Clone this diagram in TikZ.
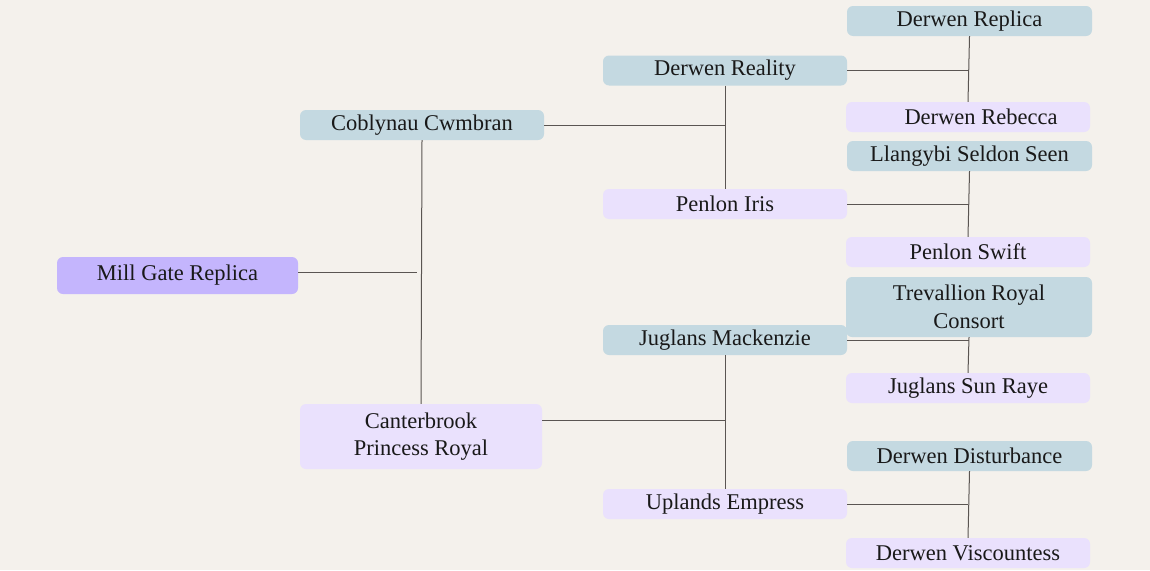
\documentclass[tikz,border=0pt]{standalone}
\usepackage{fontspec}
\setmainfont{Liberation Serif}
\definecolor{bg}{HTML}{F4F1EC}
\definecolor{rootc}{HTML}{C4B5FD}
\definecolor{bluec}{HTML}{C4D9E1}
\definecolor{lavc}{HTML}{EAE1FD}
\definecolor{linec}{HTML}{5A5552}
\begin{document}
\begin{tikzpicture}[x=1pt,y=-1pt,
  box/.style={rounded corners=6pt, inner sep=0pt, align=center, font=\fontsize{22.5}{27.5}\selectfont, text=black!90},
  rootbox/.style={box, fill=rootc, minimum width=241pt, minimum height=37pt},
  bluebox/.style={box, fill=bluec, minimum width=244pt, minimum height=30pt},
  lavbox/.style={box, fill=lavc, minimum width=244pt, minimum height=30pt},
  conn/.style={draw=linec, line width=1pt}]
\fill[bg] (0,0) rectangle (1150,570);
\useasboundingbox (0,0) rectangle (1150,570);
% level 0
\node[rootbox] (root) at (177.5,275.5) {Mill Gate Replica};
% level 1
\node[bluebox] (cob) at (422,125) {Coblynau Cwmbran};
\node[lavbox, minimum width=242pt, minimum height=65pt] (cant) at (421,436.5) {Canterbrook\\Princess Royal};
% level 2
\node[bluebox] (dreal) at (725,70.5) {Derwen Reality};
\node[lavbox] (piris) at (725,204) {Penlon Iris};
\node[bluebox] (jmack) at (725,340) {Juglans Mackenzie};
\node[lavbox] (upl) at (725,504) {Uplands Empress};
% level 3
\node[bluebox, minimum width=245pt] (drepl) at (969.5,21) {Derwen Replica};
\node[lavbox] (dreb) at (968,117) {\hspace*{26pt}Derwen Rebecca};
\node[bluebox, minimum width=245pt] (llan) at (969.5,156) {Llangybi Seldon Seen};
\node[lavbox] (pswift) at (968,252) {Penlon Swift};
\node[bluebox, minimum width=246pt, minimum height=60pt] (trev) at (969,307) {Trevallion Royal\\Consort};
\node[lavbox] (jsun) at (968,388) {Juglans Sun Raye};
\node[bluebox, minimum width=245pt] (ddist) at (969.5,456) {Derwen Disturbance};
\node[lavbox] (dvis) at (968,553) {Derwen Viscountess};
% junction coordinates
\coordinate (j0) at (417,272);
\coordinate (j1) at (725,125);
\coordinate (j2) at (969,70);
\coordinate (j3) at (969,204);
\coordinate (j4) at (725,420);
\coordinate (j5) at (969,340);
\coordinate (j6) at (968,504);
% connectors
\draw[conn] (root.east |- j0) -- (j0);
\draw[conn] (cob.south) -- (cant.north);
\draw[conn] (cob.east |- j1) -- (j1);
\draw[conn] (dreal.south) -- (piris.north);
\draw[conn] (dreal.east |- j2) -- (j2);
\draw[conn] (drepl.south) -- (dreb.north);
\draw[conn] (piris.east |- j3) -- (j3);
\draw[conn] (llan.south) -- (pswift.north);
\draw[conn] (cant.east |- j4) -- (j4);
\draw[conn] (jmack.south) -- (upl.north);
\draw[conn] (jmack.east |- j5) -- (j5);
\draw[conn] (trev.south) -- (jsun.north);
\draw[conn] (upl.east |- j6) -- (j6);
\draw[conn] (ddist.south) -- (dvis.north);
\end{tikzpicture}
\end{document}
